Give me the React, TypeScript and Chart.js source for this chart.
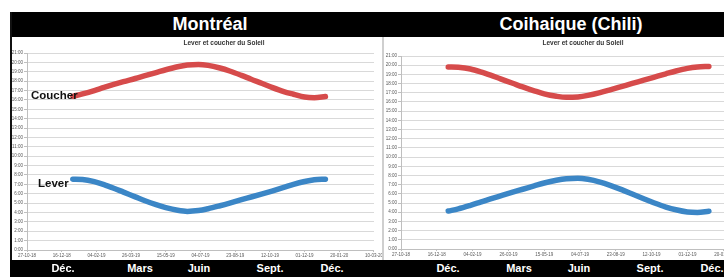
import React, { useEffect, useRef } from "react";
import { Chart, registerables } from "chart.js";
Chart.register(...registerables);

// ---- data ----
const sampleDates = [
  "01-01-19", "15-01-19", "01-02-19", "15-02-19", "01-03-19", "15-03-19",
  "01-04-19", "15-04-19", "01-05-19", "15-05-19", "01-06-19", "15-06-19",
  "01-07-19", "15-07-19", "01-08-19", "15-08-19", "01-09-19", "15-09-19",
  "01-10-19", "15-10-19", "01-11-19", "15-11-19", "01-12-19", "15-12-19",
  "31-12-19",
];
const montrealLever = [
  "7:33", "7:31", "7:17", "6:58", "6:35", "6:10", "5:40", "5:15", "4:50", "4:31",
  "4:14", "4:07", "4:12", "4:24", "4:43", "5:00", "5:22", "5:39", "5:59", "6:17",
  "6:40", "7:00", "7:18", "7:29", "7:33",
];
const montrealCoucher = [
  "16:23", "16:38", "17:00", "17:20", "17:39", "17:57", "18:17", "18:35", "18:55", "19:13",
  "19:32", "19:43", "19:47", "19:41", "19:24", "19:05", "18:37", "18:12", "17:45", "17:20",
  "16:53", "16:36", "16:18", "16:14", "16:22",
];
const coihaiqueLever = [
  "4:08", "4:22", "4:45", "5:06", "5:27", "5:47", "6:11", "6:30", "6:52", "7:11",
  "7:29", "7:39", "7:42", "7:35", "7:17", "6:56", "6:26", "5:59", "5:28", "5:02",
  "4:34", "4:16", "4:02", "3:59", "4:07",
];
const coihaiqueCoucher = [
  "19:48", "19:46", "19:35", "19:17", "18:55", "18:31", "18:02", "17:38", "17:13", "16:53",
  "16:37", "16:30", "16:33", "16:43", "17:01", "17:19", "17:42", "18:01", "18:22", "18:41",
  "19:04", "19:22", "19:39", "19:48", "19:52",
];
const xTickLabels = [
  "27-10-18", "16-12-18", "04-02-19", "26-03-19", "15-05-19", "04-07-19",
  "23-08-19", "12-10-19", "01-12-19", "20-01-20", "10-03-20",
];
const yTickLabels = [
  "0:00", "1:00", "2:00", "3:00", "4:00", "5:00", "6:00", "7:00", "8:00", "9:00", "10:00",
  "11:00", "12:00", "13:00", "14:00", "15:00", "16:00", "17:00", "18:00", "19:00", "20:00", "21:00",
];
const monthLabels = ["Déc.", "Mars", "Juin", "Sept.", "Déc."];
const cityTitles = ["Montréal", "Coihaique (Chili)"];
const chartTitle = "Lever et coucher du Soleil";
const curveNames = ["Coucher", "Lever"];

// ---- helpers ----
const dayNum = (s: string) => {
  const [d, m, y] = s.split("-").map(Number);
  return Date.UTC(2000 + y, m - 1, d) / 86400000;
};
const hours = (s: string) => {
  const [h, m] = s.split(":").map(Number);
  return h + m / 60;
};
const xTickValues = xTickLabels.map(dayNum);
const FONT = "'Liberation Sans', Arial, sans-serif";

function buildConfig(lever: string[], coucher: string[], lay: { yW: number; xH: number; top: number; right: number }) {
  const toPts = (arr: string[]) => arr.map((t, i) => ({ x: dayNum(sampleDates[i]), y: hours(t) }));
  const line = {
    borderWidth: 5.5,
    pointRadius: 0,
    cubicInterpolationMode: "monotone" as const,
    borderCapStyle: "round" as const,
    borderJoinStyle: "round" as const,
  };
  return {
    type: "line" as const,
    data: {
      datasets: [
        { label: "Coucher", data: toPts(coucher), borderColor: "#d64b4b", ...line },
        { label: "Lever", data: toPts(lever), borderColor: "#3b86c6", ...line },
      ],
    },
    options: {
      animation: false as const,
      responsive: false,
      maintainAspectRatio: false,
      layout: { padding: { top: lay.top, right: lay.right, left: 0, bottom: 0 } },
      plugins: { legend: { display: false }, tooltip: { enabled: false }, title: { display: false } },
      scales: {
        x: {
          type: "linear" as const,
          min: xTickValues[0],
          max: xTickValues[xTickValues.length - 1],
          afterBuildTicks: (scale: any) => {
            scale.ticks = xTickValues.map((v) => ({ value: v }));
          },
          afterFit: (scale: any) => {
            scale.height = lay.xH;
          },
          ticks: {
            autoSkip: false,
            maxRotation: 0,
            padding: 1,
            color: "#595959",
            font: { family: FONT, size: 4.5 },
            callback: (v: any) => {
              const i = xTickValues.indexOf(Number(v));
              return i >= 0 ? xTickLabels[i] : "";
            },
          },
          grid: { drawOnChartArea: false, drawTicks: true, tickLength: 2, color: "#bfbfbf" },
          border: { display: true, color: "#bfbfbf" },
        },
        y: {
          min: 0,
          max: 21,
          afterFit: (scale: any) => {
            scale.width = lay.yW;
          },
          ticks: {
            stepSize: 1,
            padding: 1,
            color: "#595959",
            font: { family: FONT, size: 4.5 },
            callback: (v: any) => yTickLabels[Number(v)] ?? "",
          },
          grid: { color: "#d9d9d9", lineWidth: 1, drawTicks: true, tickLength: 3, tickColor: "#bfbfbf" },
          border: { display: true, color: "#bfbfbf" },
        },
      },
    },
  };
}

function ChartCanvas({ lever, coucher, width, height, lay }: any) {
  const ref = useRef<HTMLCanvasElement>(null);
  useEffect(() => {
    if (!ref.current) return;
    const c = new Chart(ref.current, buildConfig(lever, coucher, lay) as any);
    return () => c.destroy();
  }, []);
  return <canvas ref={ref} width={width} height={height} style={{ width, height, display: "block" }} />;
}

const abs = (o: React.CSSProperties): React.CSSProperties => ({ position: "absolute", ...o });
const monthStyle: React.CSSProperties = {
  position: "absolute",
  top: 261,
  transform: "translateX(-50%)",
  color: "#fff",
  fontFamily: FONT,
  fontWeight: "bold",
  fontSize: 11,
  lineHeight: "14px",
  whiteSpace: "nowrap",
};
const leftMonthX = [63, 140, 199, 270, 332];
const rightMonthX = [448, 519, 579, 650, 712];

export default function App() {
  return (
    <div style={abs({ left: 0, top: 0, width: 724, height: 277, background: "#fff", overflow: "hidden", fontFamily: FONT })}>
      {/* black frame */}
      <div style={abs({ left: 10, top: 12, width: 714, height: 25, background: "#000" })} />
      <div style={abs({ left: 10, top: 12, width: 2, height: 265, background: "#111" })} />
      <div style={abs({ left: 10, top: 260, width: 714, height: 17, background: "#000" })} />
      {/* city titles */}
      <div style={abs({ left: 210, top: 14, transform: "translateX(-50%)", color: "#fff", fontWeight: "bold", fontSize: 18, lineHeight: "21px", whiteSpace: "nowrap" })}>
        {cityTitles[0]}
      </div>
      <div style={abs({ left: 571, top: 14, transform: "translateX(-50%)", color: "#fff", fontWeight: "bold", fontSize: 18, lineHeight: "21px", whiteSpace: "nowrap" })}>
        {cityTitles[1]}
      </div>
      {/* left chart */}
      <div style={abs({ left: 12, top: 37, width: 370, height: 223, overflow: "hidden" })}>
        <ChartCanvas lever={montrealLever} coucher={montrealCoucher} width={372} height={223} lay={{ yW: 15, xH: 10, top: 16, right: 7 }} />
      </div>
      {/* separator */}
      <div style={abs({ left: 382, top: 37, width: 2, height: 223, background: "#cfcfcf" })} />
      {/* right chart */}
      <div style={abs({ left: 384, top: 37, width: 340, height: 223, overflow: "hidden" })}>
        <ChartCanvas lever={coihaiqueLever} coucher={coihaiqueCoucher} width={390} height={223} lay={{ yW: 17, xH: 11, top: 19, right: 15 }} />
      </div>
      {/* inner chart titles */}
      <div style={abs({ left: 224, top: 39, transform: "translateX(-50%)", color: "#333", fontWeight: "bold", fontSize: 6.5, lineHeight: "8px", whiteSpace: "nowrap" })}>
        {chartTitle}
      </div>
      <div style={abs({ left: 583, top: 39, transform: "translateX(-50%)", color: "#333", fontWeight: "bold", fontSize: 6.5, lineHeight: "8px", whiteSpace: "nowrap" })}>
        {chartTitle}
      </div>
      {/* curve labels */}
      <div style={abs({ left: 31, top: 88, color: "#111", fontWeight: "bold", fontSize: 11.5, lineHeight: "14px" })}>{curveNames[0]}</div>
      <div style={abs({ left: 38, top: 176, color: "#111", fontWeight: "bold", fontSize: 11.5, lineHeight: "14px" })}>{curveNames[1]}</div>
      {/* month labels */}
      {monthLabels.map((m, i) => (
        <div key={"l" + i} style={{ ...monthStyle, left: leftMonthX[i] }}>{m}</div>
      ))}
      {monthLabels.map((m, i) => (
        <div key={"r" + i} style={{ ...monthStyle, left: rightMonthX[i] }}>{m}</div>
      ))}
    </div>
  );
}
